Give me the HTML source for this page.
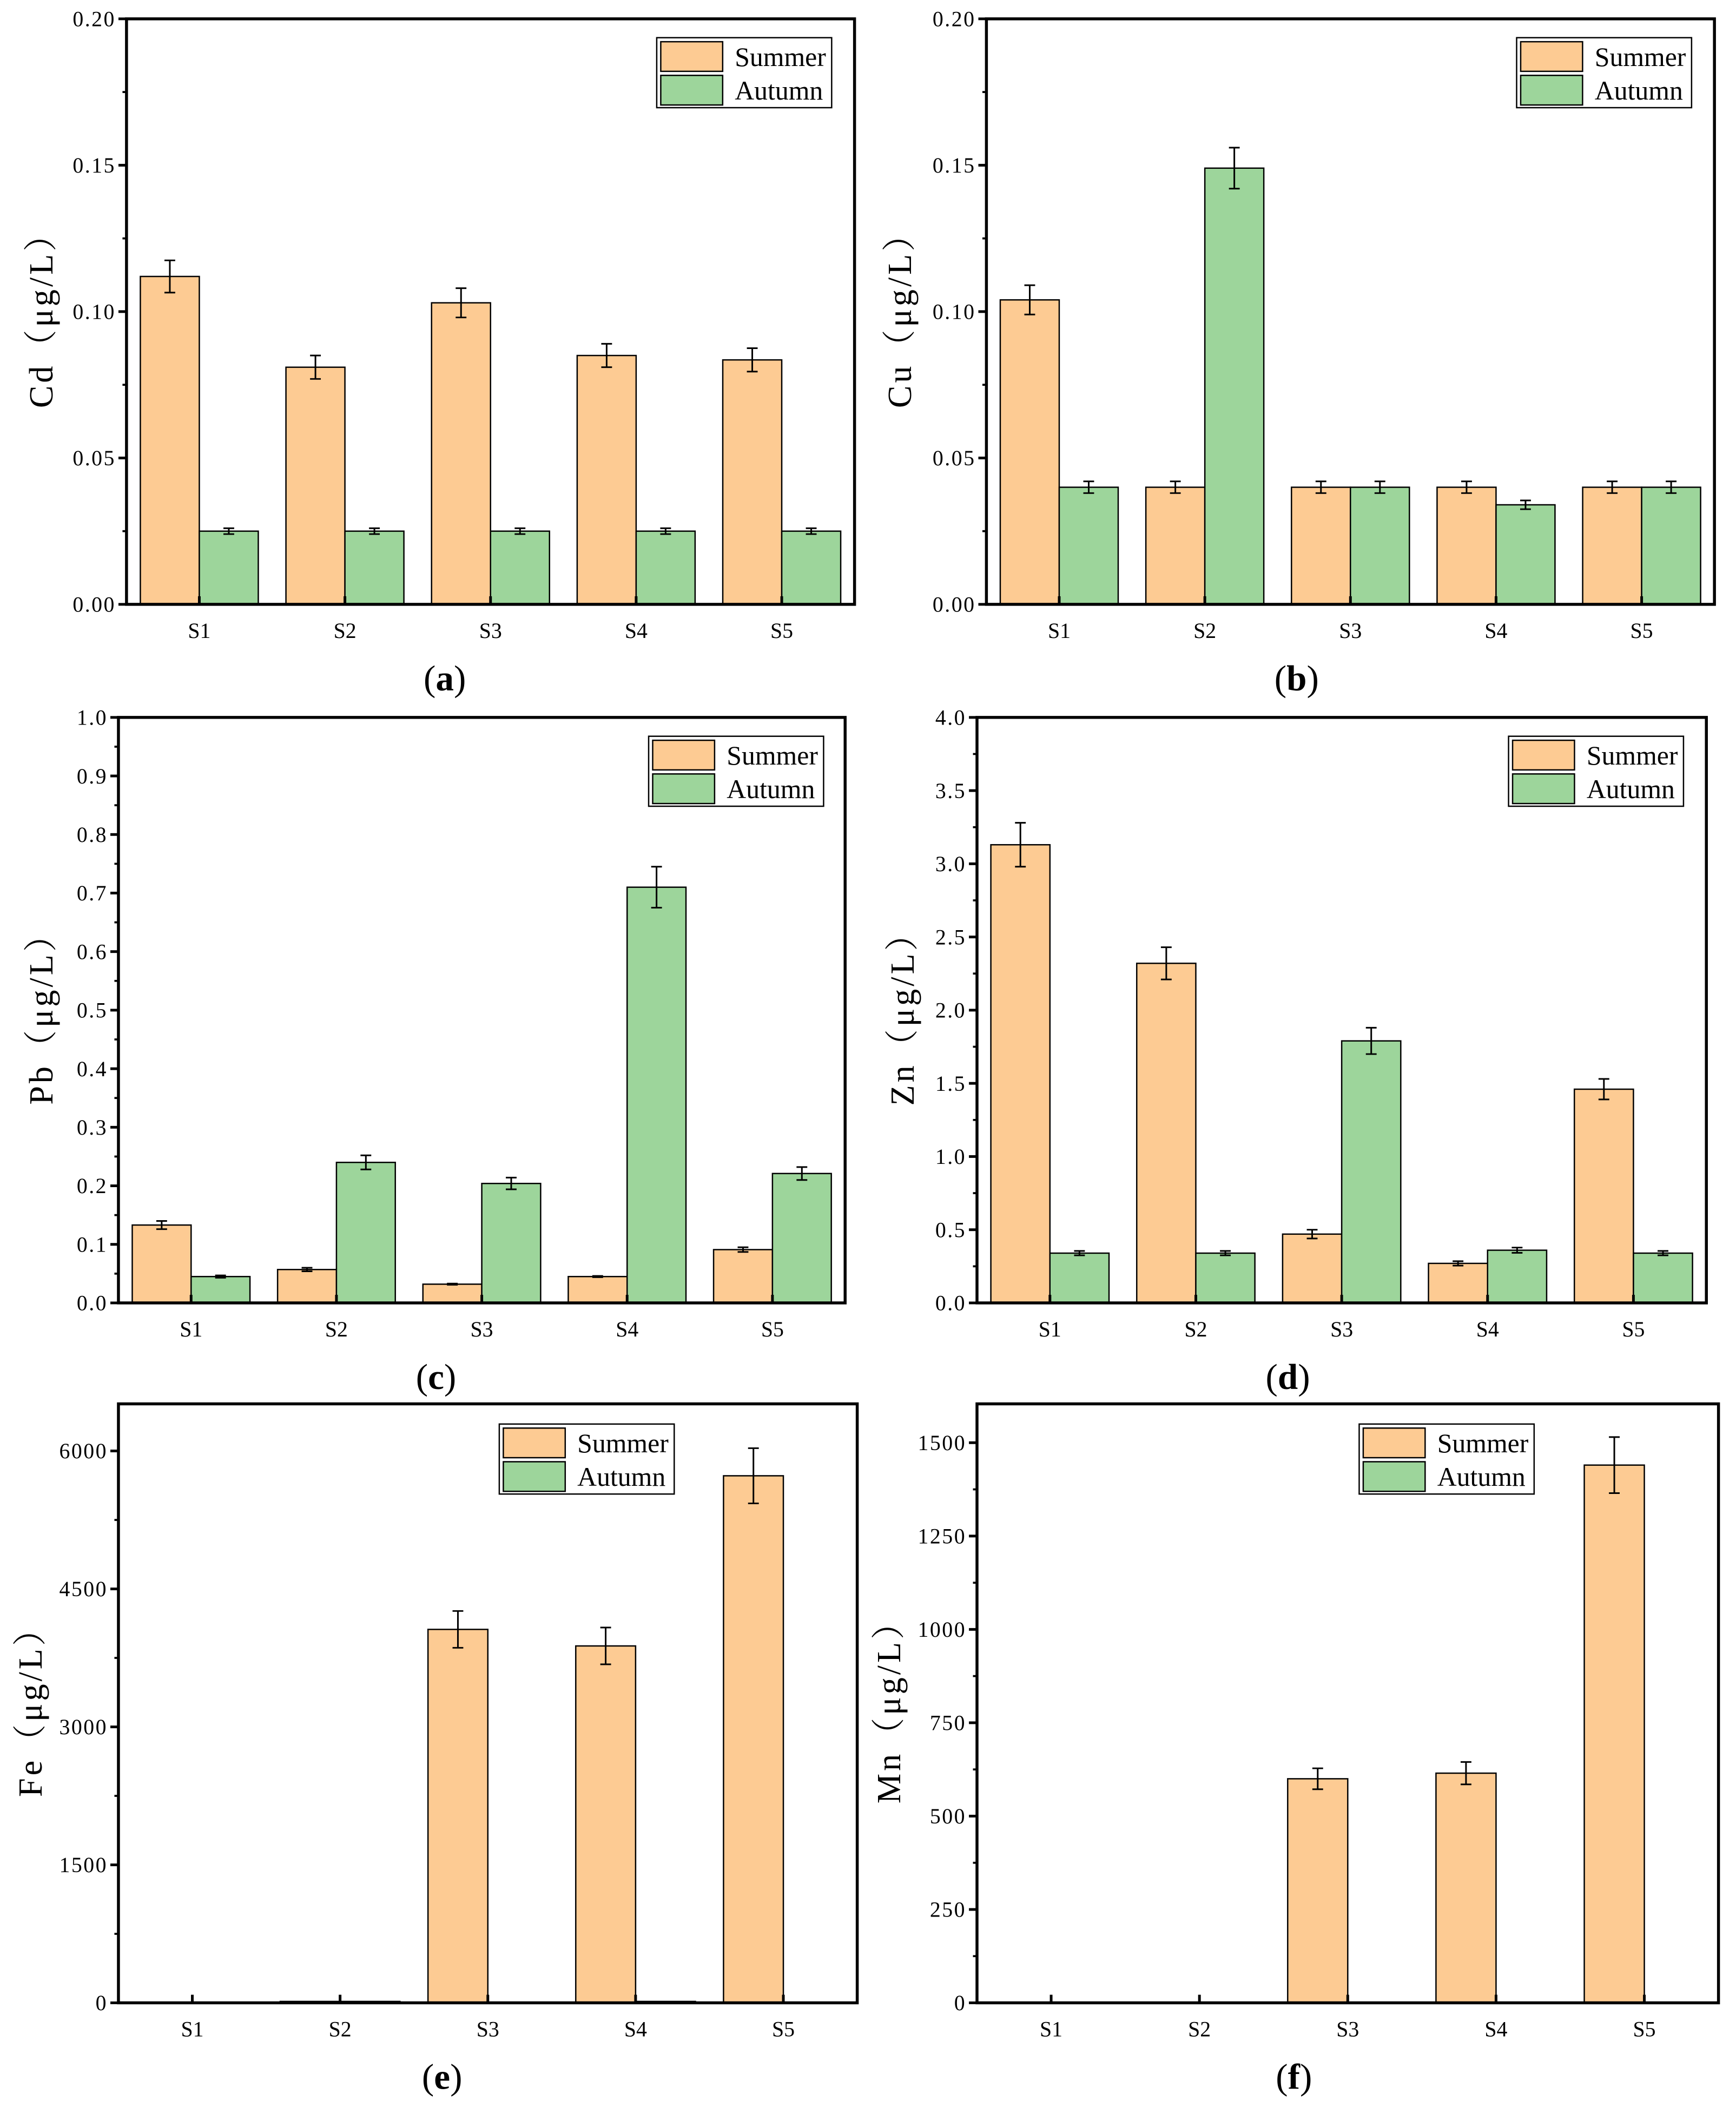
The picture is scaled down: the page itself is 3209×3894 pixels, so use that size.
<!DOCTYPE html>
<html><head><meta charset="utf-8"><style>
html,body{margin:0;padding:0;background:#fff}
svg{display:block}
text{font-family:"Liberation Serif","Noto Serif CJK SC",serif;fill:#000}
</style></head><body>
<svg id="fig" width="3209" height="3894" viewBox="0 0 1290 1565.4" xmlns="http://www.w3.org/2000/svg"></svg>
<script>
const categories = ["S1","S2","S3","S4","S5"];
const cdSummer = [0.112,0.081,0.103,0.085,0.0835];
const cdSummerErr = [0.0055,0.004,0.005,0.004,0.004];
const cdAutumn = [0.025,0.025,0.025,0.025,0.025];
const cdAutumnErr = [0.001,0.001,0.001,0.001,0.001];
const cuSummer = [0.104,0.040,0.040,0.040,0.040];
const cuSummerErr = [0.005,0.002,0.002,0.002,0.002];
const cuAutumn = [0.040,0.149,0.040,0.034,0.040];
const cuAutumnErr = [0.002,0.007,0.002,0.0015,0.002];
const pbSummer = [0.133,0.057,0.032,0.045,0.091];
const pbSummerErr = [0.007,0.003,0.001,0.001,0.004];
const pbAutumn = [0.045,0.240,0.204,0.710,0.221];
const pbAutumnErr = [0.002,0.012,0.010,0.035,0.011];
const znSummer = [3.13,2.32,0.47,0.27,1.46];
const znSummerErr = [0.15,0.11,0.03,0.015,0.07];
const znAutumn = [0.34,0.34,1.79,0.36,0.34];
const znAutumnErr = [0.015,0.015,0.09,0.018,0.015];
const feSummer = [0,15,4060,3880,5730];
const feSummerErr = [0,0,200,200,300];
const feAutumn = [0,15,0,15,0];
const feAutumnErr = [0,0,0,0,0];
const mnSummer = [0,0,600,615,1440];
const mnSummerErr = [0,0,28,30,75];
const mnAutumn = [0,0,0,0,0];
const mnAutumnErr = [0,0,0,0,0];
const cdTicks = ["0.00","0.05","0.10","0.15","0.20"];
const cuTicks = ["0.00","0.05","0.10","0.15","0.20"];
const pbTicks = ["0.0","0.1","0.2","0.3","0.4","0.5","0.6","0.7","0.8","0.9","1.0"];
const znTicks = ["0.0","0.5","1.0","1.5","2.0","2.5","3.0","3.5","4.0"];
const feTicks = ["0","1500","3000","4500","6000"];
const mnTicks = ["0","250","500","750","1000","1250","1500"];

const svg = document.getElementById('fig');
const NS = 'http://www.w3.org/2000/svg';
function mk(tag, attrs, parent){ const e=document.createElementNS(NS,tag); for(const k in attrs) e.setAttribute(k,attrs[k]); (parent||svg).appendChild(e); return e; }

const panels = [
 {id:'a',el:'Cd',L:94,R:635,T:14,B:449,ymax:0.20,ticks:cdTicks,minor:0.025,s:cdSummer,se:cdSummerErr,a:cdAutumn,ae:cdAutumnErr,lx:488,ly:28,tx:30},
 {id:'b',el:'Cu',L:733,R:1274,T:14,B:449,ymax:0.20,ticks:cuTicks,minor:0.025,s:cuSummer,se:cuSummerErr,a:cuAutumn,ae:cuAutumnErr,lx:1127,ly:28,tx:668},
 {id:'c',el:'Pb',L:88,R:628,T:533,B:968,ymax:1.0,ticks:pbTicks,minor:0.05,s:pbSummer,se:pbSummerErr,a:pbAutumn,ae:pbAutumnErr,lx:482,ly:547,tx:30},
 {id:'d',el:'Zn',L:726,R:1268,T:533,B:968,ymax:4.0,ticks:znTicks,minor:0.25,s:znSummer,se:znSummerErr,a:znAutumn,ae:znAutumnErr,lx:1121,ly:547,tx:670},
 {id:'e',el:'Fe',L:88,R:637,T:1043,B:1488,ymax:6512,ticks:feTicks,minor:750,s:feSummer,se:feSummerErr,a:feAutumn,ae:feAutumnErr,lx:371,ly:1058,tx:22},
 {id:'f',el:'Mn',L:726,R:1277,T:1043,B:1488,ymax:1604,ticks:mnTicks,minor:125,s:mnSummer,se:mnSummerErr,a:mnAutumn,ae:mnAutumnErr,lx:1010,ly:1058,tx:660}
];

panels.forEach(p=>{
  const g = mk('g',{});
  
  
  const y = v => p.B - v/p.ymax*(p.B-p.T);
  const cw = (p.R-p.L)/categories.length;
  const xc = i => p.L + (i+0.5)*cw;
  const bw = cw*0.405;
  for(let v=p.minor; v<p.ymax; v+=p.minor){
    const t=mk('line',{x1:p.L-3,x2:p.L+1,y1:y(v),y2:y(v),stroke:'#000','stroke-width':1.5},g);
    
    
  }
  p.ticks.forEach(lbl=>{
    const v=parseFloat(lbl);
    const t=mk('line',{x1:p.L-6,x2:p.L,y1:y(v),y2:y(v),stroke:'#000','stroke-width':2},g);
    
    
    const tx=mk('text',{x:p.L-8,y:y(v)+5.5,'text-anchor':'end','font-size':16,'letter-spacing':1},g);
    tx.textContent=lbl;
    
    
  });
  categories.forEach((c,i)=>{
    [[p.s,p.se,'#fdcb93',-1,'summer'],[p.a,p.ae,'#9dd59b',0,'autumn']].forEach(([vals,errs,col,off,nm])=>{
      const v=vals[i];
      if(v>0){
        const r=mk('rect',{x:xc(i)+off*bw,y:y(v),width:bw,height:p.B-y(v),fill:col,stroke:'#000','stroke-width':1},g);
        
        
      }
      const e=errs[i];
      if(e>0){
        const cx=xc(i)+off*bw+bw/2;
        const eg=mk('g',{stroke:'#000','stroke-width':1.2},g);
        
        
        mk('line',{x1:cx,x2:cx,y1:y(v+e),y2:y(v-e)},eg);
        mk('line',{x1:cx-4,x2:cx+4,y1:y(v+e),y2:y(v+e)},eg);
        mk('line',{x1:cx-4,x2:cx+4,y1:y(v-e),y2:y(v-e)},eg);
      }
    });
    const tk=mk('line',{x1:xc(i),x2:xc(i),y1:p.B,y2:p.B-6,stroke:'#000','stroke-width':2},g);
    
    
    const tl=mk('text',{x:xc(i),y:p.B+25,'text-anchor':'middle','font-size':16},g);
    tl.textContent=c;
    
    
  });
  const f=mk('rect',{x:p.L,y:p.T,width:p.R-p.L,height:p.B-p.T,fill:'none',stroke:'#000','stroke-width':2.2},g);
  
  
  const yt=mk('text',{x:0,y:0,'text-anchor':'middle','font-size':25,'letter-spacing':2,transform:`translate(${p.tx+9},${(p.T+p.B)/2}) rotate(-90)`},g);
  yt.textContent=p.el+'（μg/L）';
  
  
  const cap=mk('text',{x:(p.L+p.R)/2-(p.id==='a'||p.id==='c'||p.id==='e'?34:0)+(p.id==='b'||p.id==='d'||p.id==='f'?-40:0),y:p.B+64,'text-anchor':'middle','font-size':27},g);
  cap.innerHTML='(<tspan font-weight="bold">'+p.id+'</tspan>)';
  
  
  const lg=mk('g',{},g);
  
  
  mk('rect',{x:p.lx,y:p.ly,width:130,height:52,fill:'#fff',stroke:'#000','stroke-width':1},lg);
  [['Summer','#fdcb93',0],['Autumn','#9dd59b',1]].forEach(([t,col,k])=>{
    const it=mk('g',{},lg);
    
    
    mk('rect',{x:p.lx+3,y:p.ly+3+k*25,width:46,height:22,fill:col,stroke:'#000','stroke-width':1},it);
    const tt=mk('text',{x:p.lx+58,y:p.ly+21+k*25,'font-size':20},it);
    tt.textContent=t;
  });
});
</script>
</body></html>
